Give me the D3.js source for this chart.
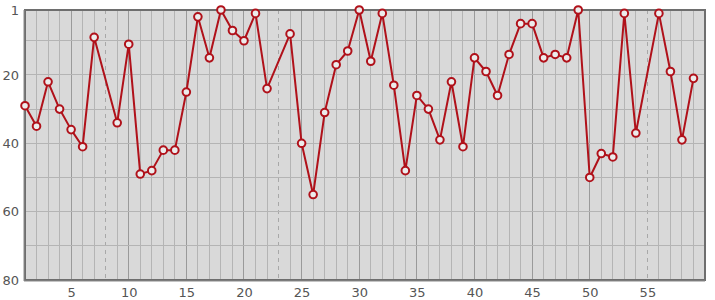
<!DOCTYPE html>
<html>
<head>
<meta charset="utf-8">
<script src="https://cdn.jsdelivr.net/npm/d3@7"></script>
<style>
  body { margin: 0; background: #fff; }
  svg text { font-family: "DejaVu Sans", sans-serif; }
</style>
</head>
<body>
<div id="chart"></div>
<script>
// rank per position, null where the point is missing
const positions = d3.range(1, 60);
const ranks = [29, 35, 22, 30, 36, 41, 9, null, 34, 11,
  49, 48, 42, 42, 25, 3, 15, 1, 7, 10,
  2, 24, null, 8, 40, 55, 31, 17, 13, 1,
  16, 2, 23, 48, 26, 30, 39, 22, 41, 15,
  19, 26, 14, 5, 5, 15, 14, 15, 1, 50,
  43, 44, 2, 37, null, 2, 19, 39, 21];
const xTicks = [5, 10, 15, 20, 25, 30, 35, 40, 45, 50, 55];
const yTicks = [1, 20, 40, 60, 80];

const width = 715;
const height = 300;
const margin = { top: 10, right: 10, bottom: 20, left: 25 };

const svg = d3.select('#chart').append('svg')
  .attr('width', width)
  .attr('height', height);

const x = d3.scaleLinear()
  .domain([1, 60])
  .range([margin.left, width - margin.right]);

const y = d3.scaleLinear()
  .domain([1, 80])
  .range([margin.top, height - margin.bottom]);

const data = positions.map((p, i) => ({ p, r: ranks[i] }));
const missing = data.filter((d) => d.r === null).map((d) => d.p);
const points = data.filter((d) => d.r !== null);

// plot background
svg.append('rect')
  .attr('x', x(1)).attr('y', y(1))
  .attr('width', x(60) - x(1)).attr('height', y(80) - y(1))
  .attr('fill', '#d9d9d9');

// vertical grid, every unit, darker every 5
const grid = svg.append('g');
grid.selectAll('line.v')
  .data(d3.range(2, 60).filter((v) => !missing.includes(v)))
  .join('line')
  .attr('x1', (d) => x(d)).attr('x2', (d) => x(d))
  .attr('y1', y(1)).attr('y2', y(80))
  .attr('stroke', (d) => (d % 5 === 0 ? '#9a9a9a' : '#b4b4b4'))
  .attr('stroke-width', 1)
  .attr('shape-rendering', 'crispEdges');

// dashed markers where points are missing
grid.selectAll('line.m')
  .data(missing)
  .join('line')
  .attr('x1', (d) => x(d)).attr('x2', (d) => x(d))
  .attr('y1', y(1)).attr('y2', y(80))
  .attr('stroke', '#a8a8a8')
  .attr('stroke-dasharray', '4,4')
  .attr('shape-rendering', 'crispEdges');

// horizontal grid every 10
grid.selectAll('line.h')
  .data(d3.range(10, 80, 10))
  .join('line')
  .attr('x1', x(1)).attr('x2', x(60))
  .attr('y1', (d) => y(d)).attr('y2', (d) => y(d))
  .attr('stroke', '#b4b4b4')
  .attr('shape-rendering', 'crispEdges');

// frame
svg.append('rect')
  .attr('x', x(1)).attr('y', y(1))
  .attr('width', x(60) - x(1)).attr('height', y(80) - y(1))
  .attr('fill', 'none')
  .attr('stroke', '#6e6e6e')
  .attr('stroke-width', 2);
svg.append('path')
  .attr('d', `M${x(1) - 1},${y(1)}V${y(80) + 1}H${x(60)}`)
  .attr('fill', 'none')
  .attr('stroke', '#8a8a8a')
  .attr('stroke-width', 1);

// axes
const xAxis = svg.append('g')
  .attr('transform', `translate(0,${y(80) + 2})`)
  .call(d3.axisBottom(x).tickValues(xTicks).tickSize(0).tickPadding(6));
const yAxis = svg.append('g')
  .attr('transform', `translate(${x(1) - 3},0)`)
  .call(d3.axisLeft(y).tickValues(yTicks).tickSize(0).tickPadding(3));
[xAxis, yAxis].forEach((g) => {
  g.select('.domain').remove();
  g.selectAll('text')
    .style('font-size', '13px')
    .style('font-family', '"DejaVu Sans", sans-serif')
    .attr('fill', '#555');
});

// line and markers
const line = d3.line()
  .x((d) => x(d.p))
  .y((d) => y(d.r));

svg.append('path')
  .datum(points)
  .attr('fill', 'none')
  .attr('stroke', '#b0111a')
  .attr('stroke-width', 2)
  .attr('stroke-linejoin', 'round')
  .attr('d', line);

svg.selectAll('circle.pt')
  .data(points)
  .join('circle')
  .attr('cx', (d) => x(d.p))
  .attr('cy', (d) => y(d.r))
  .attr('r', 3.8)
  .attr('fill', '#ececec')
  .attr('stroke', '#b0111a')
  .attr('stroke-width', 2);
</script>
</body>
</html>
